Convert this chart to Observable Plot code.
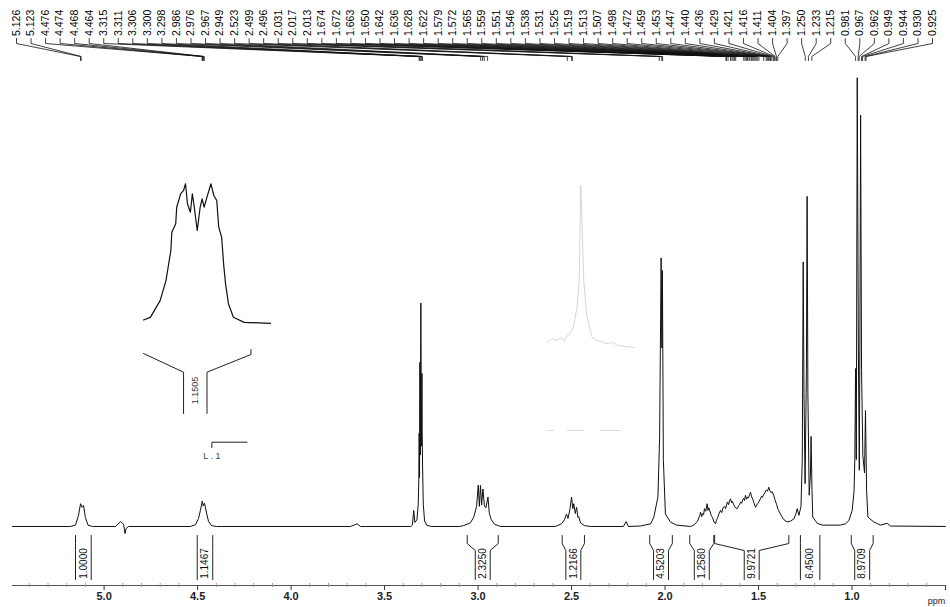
<!DOCTYPE html>
<html><head><meta charset="utf-8">
<script src="https://cdn.jsdelivr.net/npm/d3@7"></script>
<script src="https://cdn.jsdelivr.net/npm/@observablehq/plot@0.6"></script>
<style>
html,body{margin:0;padding:0;background:#fff;}
#wrap{position:relative;width:950px;height:607px;overflow:hidden;}
#wrap svg{position:absolute;}
</style></head><body><div id="wrap"></div>
<script>
// ---- data (ppm, relative intensity) ----
const spectrum = [
[5.490,0],[5.180,0],[5.153,0.3],[5.137,2.5],[5.126,5.1],[5.118,4.3],[5.110,4.7],[5.100,2.0],[5.086,0.3],[5.062,0],
[4.939,0],[4.912,1.1],[4.896,0.5],[4.888,-1.6],[4.883,-0.5],[4.870,0],
[4.538,0],[4.511,0.4],[4.495,1.8],[4.485,3.6],[4.475,5.7],[4.470,4.6],[4.463,5.2],[4.458,4.2],[4.452,3.0],[4.442,1.2],[4.426,0.2],[4.399,0],
[3.682,0],[3.647,0.6],[3.629,0],
[3.360,0],[3.351,0.3],[3.344,3.6],[3.338,0.9],[3.327,1.5],[3.320,5],[3.317,10],[3.315,20.9],[3.313,11],[3.311,36.8],[3.309,16],[3.306,50.1],[3.303,18],[3.300,34.3],[3.299,22],[3.297,14],[3.293,5],[3.286,1.2],[3.275,0.3],[3.250,0],
[3.100,0],[3.078,0.2],[3.041,0.8],[3.023,2.1],[3.008,4.5],[2.999,9.3],[2.993,4.5],[2.987,9.2],[2.981,4.8],[2.974,8.4],[2.966,4.6],[2.958,4.2],[2.947,6.6],[2.940,3.0],[2.930,1.6],[2.912,0.5],[2.880,0],
[2.586,0],[2.554,0.6],[2.538,1.5],[2.527,2.8],[2.519,1.8],[2.508,4.0],[2.500,6.6],[2.493,4.0],[2.488,5.1],[2.480,2.9],[2.473,4.3],[2.466,2.0],[2.461,2.2],[2.452,0.8],[2.431,0.2],[2.399,0],
[2.223,0],[2.208,1.1],[2.196,0],
[2.131,0.1],[2.077,0.6],[2.060,2.1],[2.038,6.6],[2.029,20],[2.021,60.2],[2.017,40],[2.014,57.4],[2.009,15],[1.998,2.8],[1.971,1.0],[1.939,0.3],[1.864,0],
[1.846,0.3],[1.826,1.2],[1.815,2.4],[1.810,3.2],[1.804,2.2],[1.800,2.9],[1.794,2.6],[1.789,4.0],[1.782,3.4],[1.775,5.1],[1.770,3.6],[1.766,4.2],[1.757,3.0],[1.752,2.4],[1.746,2.0],[1.738,1.0],[1.730,0.6],[1.725,1.4],[1.720,1.8],[1.712,2.8],[1.703,3.6],[1.697,3.1],[1.690,4.2],[1.682,4.5],[1.676,4.0],[1.670,5.0],[1.666,5.5],[1.660,4.9],[1.655,5.8],[1.650,6.2],[1.644,5.3],[1.640,5.6],[1.634,5.0],[1.627,4.4],[1.620,4.1],[1.614,4.0],[1.606,4.7],[1.600,5.0],[1.596,5.5],[1.590,5.2],[1.585,6.0],[1.580,6.3],[1.575,5.8],[1.570,7.0],[1.564,6.1],[1.559,6.6],[1.554,6.4],[1.548,7.1],[1.543,7.7],[1.538,6.8],[1.530,6.0],[1.524,5.2],[1.516,4.3],[1.510,4.8],[1.503,5.2],[1.497,5.6],[1.490,6.2],[1.484,6.8],[1.479,6.5],[1.474,7.0],[1.466,7.6],[1.458,8.2],[1.452,7.9],[1.445,8.8],[1.440,8.1],[1.434,7.6],[1.427,7.8],[1.419,7.0],[1.412,6.0],[1.404,5.0],[1.395,3.8],[1.383,2.8],[1.366,1.6],[1.347,1.0],[1.329,1.2],[1.311,1.7],[1.299,3.0],[1.293,4.0],[1.284,2.5],
[1.273,4.5],[1.266,15],[1.261,59.3],[1.257,30],[1.251,9.6],[1.244,35],[1.240,74],[1.236,30],[1.229,7.0],[1.222,12],[1.219,20.2],[1.214,8],[1.210,2.1],[1.186,0.7],[1.158,0.3],[1.062,0.3],
[1.035,0.6],[1.017,1.3],[0.999,3.6],[0.989,8],[0.985,15],[0.981,35.4],[0.977,15],[0.972,100.6],[0.966,40],[0.961,12.6],[0.958,40],[0.954,92.2],[0.949,35],[0.942,15.9],[0.933,12],[0.928,26],[0.922,8],[0.915,2.1],[0.883,1.0],[0.848,0.3],[0.812,0.7],[0.794,0.1],[0.500,0]
];
const peakLabels = [5.126,5.123,4.476,4.474,4.468,4.464,3.315,3.311,3.306,3.300,3.298,2.986,2.976,2.967,2.949,2.523,2.499,2.496,2.031,2.017,2.013,1.674,1.672,1.663,1.650,1.642,1.636,1.628,1.622,1.579,1.572,1.565,1.559,1.551,1.546,1.538,1.531,1.525,1.519,1.513,1.507,1.498,1.472,1.459,1.453,1.447,1.440,1.436,1.429,1.421,1.416,1.411,1.404,1.397,1.250,1.233,1.215,0.981,0.967,0.962,0.949,0.944,0.930,0.925];
const integralFrom = [5.153,4.502,3.058,2.550,2.082,1.868,1.735,1.276,1.004];
const integralTo   = [5.069,4.419,2.892,2.431,1.961,1.739,1.338,1.172,0.887];
const integralValues = ["1.0000","1.1467","2.3250","1.2166","4.5203","1.2580","9.9721","6.4500","8.9709"];
const majorTicks = [5.0,4.5,4.0,3.5,3.0,2.5,2.0,1.5,1.0,0.5];
const minorTicks = d3.range(54,5,-1).map(d=>d/10).filter(d=>Math.round(d*10)%5!==0);
// inset 1: expansion of the 4.47 multiplet
const inset1Trace = [[4.530,2.4],[4.523,4.3],[4.513,16.3],[4.507,30.6],[4.502,52.2],[4.501,65.3],[4.497,71.3],[4.496,83.2],[4.492,92.8],[4.489,95.2],[4.487,100],[4.485,85.7],[4.482,79.6],[4.480,92.8],[4.478,83.2],[4.475,66.5],[4.472,83.2],[4.470,89.2],[4.468,83.2],[4.465,90.4],[4.461,100],[4.458,91.6],[4.455,88.0],[4.453,68.9],[4.450,61.7],[4.448,42.6],[4.446,28.3],[4.443,13.9],[4.438,4.3],[4.427,0.7],[4.400,0]];
const inset1Integral = {outer:[4.530,4.420], inner:[4.489,4.465], value:"1.1505"};
const inset1Scale = {from:4.460, to:4.424, label:"L . 1"};
// inset 2: faint expansion of the 2.03 singlet
const inset2Trace = [[2.078,3.2],[2.071,5.5],[2.065,4.3],[2.060,6.1],[2.055,4.3],[2.051,7.3],[2.047,8.5],[2.043,12.2],[2.038,24.6],[2.035,40.9],[2.034,71.3],[2.033,98.8],[2.031,71.3],[2.029,40.9],[2.025,19.5],[2.018,6.3],[2.012,4.3],[2.007,3.7],[1.998,2.3],[1.991,3.0],[1.983,1.2],[1.973,0.6],[1.962,0]];
const inset2Bars = [[2.078,2.069],[2.051,2.029],[2.007,1.980]];

// ---- layout ----
const W=950,H=607,mL=12,mR=5,mT=0,mB=22;
const xDomain=[5.49,0.50], yDomain=[-13.23,117.9];
const xs=d3.scaleLinear(xDomain,[mL,W-mR]);
const ys=d3.scaleLinear(yDomain,[H-mB,mT]);
const xAt=p=>xs.invert(p), yAt=p=>ys.invert(p);
const FONT='"Liberation Sans", Arial, sans-serif';

const n=peakLabels.length;
const labelPos=peakLabels.map((d,i)=>xAt(16+i*(916/(n-1))));
const conn=peakLabels.flatMap((p,i)=>[
  {x:labelPos[i],y:yAt(38),i},{x:labelPos[i],y:yAt(43),i},{x:p,y:yAt(56),i},{x:p,y:yAt(60),i}]);

const centers=integralFrom.map((a,i)=>(a+integralTo[i])/2);
const brk=integralFrom.flatMap((a,i)=>{
  const b=integralTo[i], c=centers[i], half=(a-b)/2;
  const h= half<0.055 ? half : 0.04;
  return [
    {x:a,y:yAt(535),k:"L"+i},{x:a,y:yAt(543),k:"L"+i},{x:c+h,y:yAt(550),k:"L"+i},{x:c+h,y:yAt(579),k:"L"+i},
    {x:b,y:yAt(535),k:"R"+i},{x:b,y:yAt(543),k:"R"+i},{x:c-h,y:yAt(550),k:"R"+i},{x:c-h,y:yAt(579),k:"R"+i}];
});

const main=Plot.plot({
  width:W,height:H,marginLeft:mL,marginRight:mR,marginTop:mT,marginBottom:mB,
  x:{domain:xDomain,label:null},
  y:{domain:yDomain,axis:null},
  style:{background:"#fff",overflow:"visible",fontFamily:FONT},
  marks:[
    Plot.ruleY([yDomain[0]],{stroke:"#555",strokeWidth:1}),
    Plot.ruleX(minorTicks,{x:d=>d,y1:yAt(583),y2:yAt(587),stroke:"#999",strokeWidth:1}),
    Plot.axisX({ticks:majorTicks,tickSize:5,tickPadding:2,fontSize:11,fontWeight:"bold",
      tickFormat:d=>d===0.5?"":d.toFixed(1),label:null,stroke:"#333",fill:"#222"}),
    Plot.text(["ppm"],{x:xAt(936),y:yAt(601),text:d=>d,fontSize:9,fill:"#222"}),
    Plot.line(spectrum,{x:d=>d[0],y:d=>d[1],stroke:"#111",strokeWidth:1}),
    Plot.line(conn,{x:"x",y:"y",z:"i",stroke:"#111",strokeWidth:0.8}),
    Plot.text(peakLabels,{x:(d,i)=>labelPos[i],y:yAt(35.5),text:d=>d.toFixed(3),rotate:-90,textAnchor:"start",fontSize:10.5,fill:"#000"}),
    Plot.line(brk,{x:"x",y:"y",z:"k",stroke:"#222",strokeWidth:1}),
    Plot.text(integralValues,{x:(d,i)=>centers[i],y:yAt(563),text:d=>d,rotate:-90,fontSize:10,fill:"#111"})
  ]
});
main.style.left="0px";main.style.top="0px";
document.getElementById("wrap").appendChild(main);

// inset 1
{
  const w=127,h=277;
  const xd=[4.53,4.40], yd=[-98.3,100.2];
  const sx=d3.scaleLinear(xd,[0,w]), sy=d3.scaleLinear(yd,[h,0]);
  const iy=p=>sy.invert(p);
  const o=inset1Integral.outer, inn=inset1Integral.inner;
  const br=[
    {x:o[0],y:iy(170),k:"l"},{x:inn[0],y:iy(188.7),k:"l"},{x:inn[0],y:iy(230),k:"l"},
    {x:o[1],y:iy(166),k:"r"},{x:o[1],y:iy(171),k:"r"},{x:inn[1],y:iy(188.7),k:"r"},{x:inn[1],y:iy(230),k:"r"}];
  const sc=inset1Scale;
  const p=Plot.plot({
    width:w,height:h,marginLeft:0,marginRight:0,marginTop:0,marginBottom:0,
    x:{domain:xd,axis:null},y:{domain:yd,axis:null},
    style:{background:"transparent",overflow:"visible",fontFamily:FONT},
    marks:[
      Plot.line(inset1Trace,{x:d=>d[0],y:d=>d[1],stroke:"#111",strokeWidth:1.2}),
      Plot.line(br,{x:"x",y:"y",z:"k",stroke:"#222",strokeWidth:1}),
      Plot.text([inset1Integral.value],{x:(inn[0]+inn[1])/2,y:iy(207),text:d=>d,rotate:-90,fontSize:9,fill:"#333"}),
      Plot.line([{x:sc.from,y:iy(264)},{x:sc.from,y:iy(258.7)},{x:sc.to,y:iy(258.7)}],{x:"x",y:"y",stroke:"#222",strokeWidth:1}),
      Plot.text([sc.label],{x:sc.from,y:iy(273),text:d=>d,fontSize:9,fill:"#444"})
    ]
  });
  p.style.left="143px";p.style.top="183px";
  document.getElementById("wrap").appendChild(p);
}
// inset 2 (faint)
{
  const w=90,h=267;
  const xd=[2.08,1.96], yd=[-62.8,100];
  const sy=d3.scaleLinear(yd,[h,0]);
  const iy=p=>sy.invert(p);
  const bars=inset2Bars.flatMap((b,i)=>[{x:b[0],y:iy(247),k:i},{x:b[1],y:iy(247),k:i}]);
  const p=Plot.plot({
    width:w,height:h,marginLeft:0,marginRight:0,marginTop:0,marginBottom:0,
    x:{domain:xd,axis:null},y:{domain:yd,axis:null},
    style:{background:"transparent",overflow:"visible",fontFamily:FONT},
    marks:[
      Plot.line(inset2Trace,{x:d=>d[0],y:d=>d[1],stroke:"#d6d6d6",strokeWidth:1}),
      Plot.line(bars,{x:"x",y:"y",z:"k",stroke:"#dddddd",strokeWidth:1})
    ]
  });
  p.style.left="545px";p.style.top="183px";
  document.getElementById("wrap").appendChild(p);
}
</script></body></html>
